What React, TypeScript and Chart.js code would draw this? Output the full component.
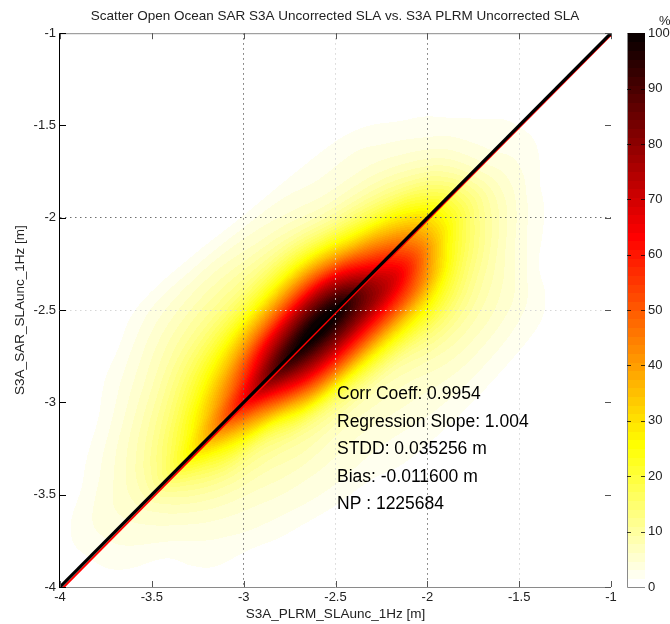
import { useEffect, useRef } from 'react';
import { Chart, registerables } from 'chart.js';

Chart.register(...registerables);

const FONT = '"Liberation Sans", Arial, Helvetica, sans-serif';

const titleText = 'Scatter Open Ocean SAR S3A Uncorrected SLA vs. S3A PLRM Uncorrected SLA';
const xTitle = 'S3A_PLRM_SLAunc_1Hz [m]';
const yTitle = 'S3A_SAR_SLAunc_1Hz [m]';

const axisTicks = [-4, -3.5, -3, -2.5, -2, -1.5, -1];
const axisTickLabels = ['-4', '-3.5', '-3', '-2.5', '-2', '-1.5', '-1'];
const colorbarTicks = [0, 10, 20, 30, 40, 50, 60, 70, 80, 90, 100];
const colorbarUnit = '%';

const statsLabels = [
  'Corr Coeff: 0.9954',
  'Regression Slope: 1.004',
  'STDD: 0.035256 m',
  'Bias: -0.011600 m',
  'NP : 1225684',
];

// 1:1 line and regression line
const lineX = [-4, -1];
const regSlope = 1.004;
const regIntercept = -0.005;

// Density (% of max), sampled on s = (x+y)/2 (rows) and d = y - x (columns)
const densityS = [-4, -3.75, -3.5, -3.25, -3, -2.75, -2.5, -2.25, -2, -1.75, -1.5, -1.25, -1];
const densityD = [-1.35, -1.2, -1.05, -0.9, -0.75, -0.6, -0.45, -0.3, -0.15, 0, 0.15, 0.3, 0.45, 0.6, 0.75, 0.9, 1.05, 1.2, 1.35];
const densityPct = [
  [0, 0, 0, 0, 0, 0, 0, 0, 0, 0, 0, 0, 0, 0, 0, 0, 0, 0, 0],
  [0, 0, 0, 0, 0, 0, 0, 1.5, 2.5, 3, 3, 2, 0.5, 0, 0, 0, 0, 0, 0],
  [0, 0, 0, 0, 1.6, 2.5, 3.5, 5, 7, 9, 8, 6, 4, 2, 0.5, 0, 0, 0, 0],
  [0, 0, 0.5, 2, 3.5, 5, 7.5, 12, 20, 30, 22, 15, 10, 6.5, 4, 2, 0.3, 0, 0],
  [0, 0, 1.8, 3.5, 5, 7.5, 11, 20, 42, 62, 46, 30, 19, 12, 8, 5, 2.5, 0, 0],
  [0, 1.5, 2.5, 4, 5.5, 9, 20, 48, 76, 95, 74, 46, 25, 14, 9, 5.5, 2, 0, 0],
  [0.5, 2, 3.5, 5, 7, 12, 28, 56, 84, 99, 80, 50, 26, 13, 7, 4, 1, 0, 0],
  [0.5, 2, 4, 6.5, 10, 17, 30, 52, 68, 62, 46, 27, 14, 7, 4, 2.5, 0.5, 0, 0],
  [0, 1.5, 3, 5, 7, 10, 15, 22, 30, 30, 22, 13, 7.5, 4.5, 3, 1.5, 0.3, 0, 0],
  [0, 0, 0, 0, 1.5, 3, 5, 7, 8, 7, 5.5, 4, 2.5, 1.5, 0.5, 0, 0, 0, 0],
  [0, 0, 0, 0, 0, 0, 0, 1, 1.6, 1.5, 1.2, 0.5, 0, 0, 0, 0, 0, 0, 0],
  [0, 0, 0, 0, 0, 0, 0, 0, 0, 0, 0, 0, 0, 0, 0, 0, 0, 0, 0],
  [0, 0, 0, 0, 0, 0, 0, 0, 0, 0, 0, 0, 0, 0, 0, 0, 0, 0, 0],
];

const xGridDark = [-3, -2];
const xGridFaint = [-2.5, -1.5];
const yGridDark = [-2];
const yGridFaint = [-2.5];

function hotFlipped(v: number): [number, number, number] {
  let i = Math.floor((v / 100) * 64);
  if (i < 0) i = 0;
  if (i > 63) i = 63;
  const k = 64 - i;
  const cl = (t: number) => Math.max(0, Math.min(1, t));
  return [cl(k / 24) * 255, cl((k - 24) / 24) * 255, cl((k - 48) / 16) * 255];
}

function cr(p0: number, p1: number, p2: number, p3: number, t: number) {
  return 0.5 * (2 * p1 + (-p0 + p2) * t + (2 * p0 - 5 * p1 + 4 * p2 - p3) * t * t + (-p0 + 3 * p1 - 3 * p2 + p3) * t * t * t);
}

function gridVal(r: number, c: number) {
  if (r < 0 || r >= densityS.length || c < 0 || c >= densityD.length) return 0;
  return densityPct[r][c];
}

function sampleDensity(s: number, d: number) {
  const s0 = densityS[0];
  const ds = densityS[1] - densityS[0];
  const d0 = densityD[0];
  const dd = densityD[1] - densityD[0];
  const fr = (s - s0) / ds;
  const fc = (d - d0) / dd;
  if (fr < -1 || fc < -1 || fr > densityS.length || fc > densityD.length) return 0;
  const r = Math.floor(fr);
  const c = Math.floor(fc);
  const tr = fr - r;
  const tc = fc - c;
  const rows: number[] = [];
  for (let k = -1; k <= 2; k++) {
    rows.push(cr(gridVal(r + k, c - 1), gridVal(r + k, c), gridVal(r + k, c + 1), gridVal(r + k, c + 2), tc));
  }
  return Math.max(0, cr(rows[0], rows[1], rows[2], rows[3], tr));
}

const densityPlugin = {
  id: 'densityImage',
  beforeDraw(chart: any) {
    const { ctx, chartArea } = chart;
    const xs = chart.scales.x;
    const ys = chart.scales.y;
    const L = Math.round(chartArea.left);
    const T = Math.round(chartArea.top);
    const W = Math.round(chartArea.right) - L;
    const H = Math.round(chartArea.bottom) - T;
    const img = ctx.createImageData(W, H);
    const data = img.data;
    for (let py = 0; py < H; py++) {
      const yv = ys.getValueForPixel(T + py + 0.5);
      for (let px = 0; px < W; px++) {
        const xv = xs.getValueForPixel(L + px + 0.5);
        const v = sampleDensity((xv + yv) / 2, yv - xv);
        const [r, g, b] = hotFlipped(v);
        const o = (py * W + px) * 4;
        data[o] = r;
        data[o + 1] = g;
        data[o + 2] = b;
        data[o + 3] = 255;
      }
    }
    ctx.putImageData(img, L, T);
  },
};

const decorPlugin = {
  id: 'decor',
  afterDraw(chart: any) {
    const { ctx, chartArea } = chart;
    const { left, right, top, bottom } = chartArea;
    const xs = chart.scales.x;
    const ys = chart.scales.y;
    const y2 = chart.scales.y2;
    ctx.save();
    // box lines
    ctx.lineWidth = 1;
    ctx.strokeStyle = '#8a8a8a';
    ctx.beginPath();
    ctx.moveTo(left, top + 0.5);
    ctx.lineTo(right, top + 0.5);
    ctx.moveTo(left, bottom + 0.5);
    ctx.lineTo(right, bottom + 0.5);
    ctx.stroke();
    ctx.strokeStyle = '#000';
    ctx.beginPath();
    ctx.moveTo(left - 0.5, top);
    ctx.lineTo(left - 0.5, bottom + 1);
    ctx.stroke();
    // inward ticks
    const tl = 6;
    ctx.strokeStyle = '#555';
    ctx.beginPath();
    for (const v of axisTicks) {
      const px = Math.round(xs.getPixelForValue(v)) + 0.5;
      ctx.moveTo(px, bottom);
      ctx.lineTo(px, bottom - tl);
      ctx.moveTo(px, top);
      ctx.lineTo(px, top + tl);
      const py = Math.round(ys.getPixelForValue(v)) + 0.5;
      ctx.moveTo(right, py);
      ctx.lineTo(right - tl, py);
    }
    ctx.stroke();
    ctx.strokeStyle = '#000';
    ctx.beginPath();
    for (const v of axisTicks) {
      const py = Math.round(ys.getPixelForValue(v)) + 0.5;
      ctx.moveTo(left, py);
      ctx.lineTo(left + tl, py);
    }
    ctx.stroke();

    // colorbar
    const cbL = Math.round(right) + 16;
    const cbW = 18;
    for (let i = 0; i < 64; i++) {
      const v0 = (i * 100) / 64;
      const v1 = ((i + 1) * 100) / 64;
      const pa = y2.getPixelForValue(v0);
      const pb = y2.getPixelForValue(v1);
      const [r, g, b] = hotFlipped((v0 + v1) / 2);
      ctx.fillStyle = `rgb(${Math.round(r)},${Math.round(g)},${Math.round(b)})`;
      ctx.fillRect(cbL, Math.floor(pb), cbW, Math.ceil(pa) - Math.floor(pb));
    }
    ctx.strokeStyle = '#8a8a8a';
    ctx.beginPath();
    ctx.moveTo(cbL + 0.5, y2.getPixelForValue(100));
    ctx.lineTo(cbL + 0.5, y2.getPixelForValue(0) + 0.5);
    ctx.lineTo(cbL + cbW, y2.getPixelForValue(0) + 0.5);
    ctx.stroke();
    ctx.strokeStyle = 'rgba(0,0,0,0.75)';
    ctx.beginPath();
    for (const v of colorbarTicks) {
      if (v === 0 || v === 100) continue;
      const py = Math.round(y2.getPixelForValue(v)) + 0.5;
      ctx.moveTo(cbL, py);
      ctx.lineTo(cbL + 4, py);
      ctx.moveTo(cbL + cbW - 4, py);
      ctx.lineTo(cbL + cbW, py);
    }
    ctx.stroke();
    ctx.fillStyle = '#222';
    ctx.font = `13px ${FONT}`;
    ctx.textAlign = 'left';
    ctx.textBaseline = 'alphabetic';
    ctx.fillText(colorbarUnit, cbL + 32, top - 8);

    // statistics text
    ctx.fillStyle = '#000';
    ctx.font = `17.5px ${FONT}`;
    ctx.textBaseline = 'middle';
    statsLabels.forEach((t, i) => {
      ctx.fillText(t, left + 277, top + 361 + i * 27.5);
    });
    ctx.restore();
  },
};

function gridColor(dark: number[], faint: number[]) {
  return (c: any) => {
    const v = c.tick ? c.tick.value : NaN;
    if (dark.some((d) => Math.abs(d - v) < 1e-6)) return '#6e6e6e';
    if (faint.some((d) => Math.abs(d - v) < 1e-6)) return '#d6d6d6';
    return 'rgba(0,0,0,0)';
  };
}

export default function App() {
  const ref = useRef<HTMLCanvasElement | null>(null);
  useEffect(() => {
    if (!ref.current) return;
    const chart = new Chart(ref.current, {
      type: 'scatter',
      data: {
        datasets: [
          {
            label: '1:1',
            data: lineX.map((x) => ({ x, y: x })),
            showLine: true,
            borderColor: '#000',
            borderWidth: 3.2,
            pointRadius: 0,
          },
          {
            label: 'regression',
            data: lineX.map((x) => ({ x, y: regSlope * x + regIntercept })),
            showLine: true,
            borderColor: '#ff0000',
            borderWidth: 2,
            pointRadius: 0,
          },
        ],
      },
      options: {
        responsive: false,
        animation: false,
        events: [],
        layout: { padding: 0, autoPadding: false },
        plugins: {
          legend: { display: false },
          tooltip: { enabled: false },
          title: {
            display: true,
            text: titleText,
            color: '#222',
            font: { family: FONT, size: 13.5, weight: 'normal' },
            padding: { top: 8, bottom: 9 },
          },
        },
        scales: {
          x: {
            type: 'linear',
            min: -4,
            max: -1,
            afterBuildTicks: (s: any) => {
              s.ticks = axisTicks.map((v) => ({ value: v }));
            },
            afterFit: (s: any) => {
              s.height = 37;
            },
            ticks: {
              autoSkip: false,
              maxRotation: 0,
              padding: 3,
              color: '#222',
              font: { family: FONT, size: 13 },
              callback: (_v: any, i: number) => axisTickLabels[i],
            },
            grid: { color: gridColor(xGridDark, xGridFaint), drawTicks: false, lineWidth: 1 },
            border: { display: false, dash: [1.5, 3.5] },
            title: {
              display: true,
              text: xTitle,
              color: '#222',
              font: { family: FONT, size: 13.5 },
              padding: { top: 0, bottom: 2 },
            },
          },
          y: {
            type: 'linear',
            min: -4,
            max: -1,
            afterBuildTicks: (s: any) => {
              s.ticks = axisTicks.map((v) => ({ value: v }));
            },
            afterFit: (s: any) => {
              s.width = 60;
            },
            ticks: {
              autoSkip: false,
              padding: 4,
              color: '#222',
              font: { family: FONT, size: 13 },
              callback: (_v: any, i: number) => axisTickLabels[i],
            },
            grid: { color: gridColor(yGridDark, yGridFaint), drawTicks: false, lineWidth: 1 },
            border: { display: false, dash: [1.5, 3.5] },
            title: {
              display: true,
              text: yTitle,
              color: '#222',
              font: { family: FONT, size: 13.5 },
              padding: { top: 12, bottom: 0 },
            },
          },
          y2: {
            type: 'linear',
            position: 'right',
            min: 0,
            max: 100,
            afterBuildTicks: (s: any) => {
              s.ticks = colorbarTicks.map((v) => ({ value: v }));
            },
            afterFit: (s: any) => {
              s.width = 59;
            },
            ticks: {
              autoSkip: false,
              padding: 0,
              color: '#222',
              font: { family: FONT, size: 13 },
              callback: (v: any) => String(v),
            },
            grid: {
              drawOnChartArea: false,
              drawTicks: true,
              tickLength: 37,
              tickColor: 'rgba(0,0,0,0)',
            },
            border: { display: false },
          },
        },
      },
      plugins: [densityPlugin, decorPlugin],
    } as any);
    return () => chart.destroy();
  }, []);
  return (
    <div style={{ position: 'absolute', left: 0, top: 0, width: 670, height: 624, background: '#fff' }}>
      <canvas ref={ref} width={670} height={624} style={{ display: 'block' }} />
    </div>
  );
}
